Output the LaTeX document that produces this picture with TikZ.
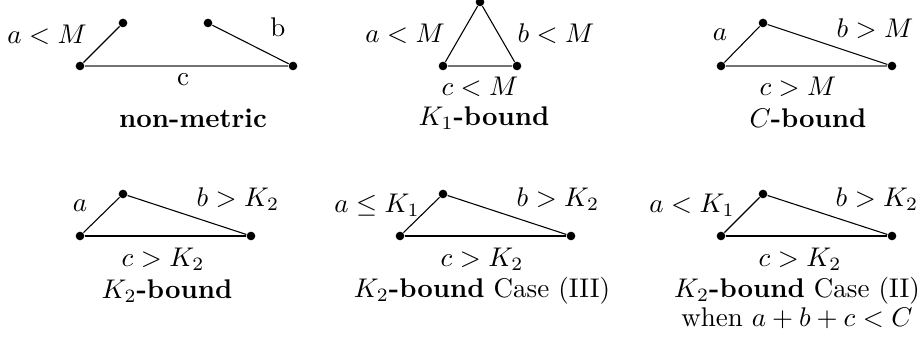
\documentclass[tikz,border=0pt]{standalone}
\usepackage{amsmath}
\begin{document}
\begin{tikzpicture}[x=0.37037pt,y=-0.37037pt,
  vtx/.style={circle,fill=black,inner sep=0pt,minimum size=3.2pt},
  edge/.style={draw=black,line width=0.4pt},
  base/.style={draw=black!55,line width=0.9pt},
  lab/.style={inner sep=0pt}]
\useasboundingbox (0,0) rectangle (923,344);
% Panel 1: non-metric
\node[vtx] (p1l) at (80,66) {};
\node[vtx] (p1a) at (123,23) {};
\node[vtx] (p1b) at (208,23) {};
\node[vtx] (p1r) at (293,66) {};
\draw[base] (p1l) -- (p1r);
\draw[edge] (p1l) -- (p1a);
\draw[edge] (p1b) -- (p1r);
\node[lab] (l1a) at (47,35) {$a<M$};
\node[lab] (l1b) at (278,27) {b};
\node[lab] (l1c) at (183,80) {c};
\node[lab] (t1) at (193,118) {\textbf{non-metric}};
% Panel 2: K1-bound
\node[vtx] (p2l) at (443,66) {};
\node[vtx] (p2t) at (480,2) {};
\node[vtx] (p2r) at (517,66) {};
\draw[base] (p2l) -- (p2r);
\draw[edge] (p2l) -- (p2t) -- (p2r);
\node[lab] (l2a) at (405,34) {$a<M$};
\node[lab] (l2b) at (556,34) {$b<M$};
\node[lab] (l2c) at (480,87) {$c<M$};
\node[lab] (t2) at (484,118) {$K_1$\textbf{-bound}};
% Panel 3: C-bound
\node[vtx] (p3l) at (721,66) {};
\node[vtx] (p3t) at (763,23) {};
\node[vtx] (p3r) at (892,66) {};
\draw[base] (p3l) -- (p3r);
\draw[edge] (p3l) -- (p3t) -- (p3r);
\node[lab] (l3a) at (720,35) {$a$};
\node[lab] (l3b) at (875,29) {$b>M$};
\node[lab] (l3c) at (798,87) {$c>M$};
\node[lab] (t3) at (808,118) {$C$\textbf{-bound}};
% Panel 4: K2-bound
\node[vtx] (p4l) at (80,236) {};
\node[vtx] (p4t) at (123,194) {};
\node[vtx] (p4r) at (251,236) {};
\draw[edge] (p4l) -- (p4r);
\draw[edge] (p4l) -- (p4t) -- (p4r);
\node[lab] (l4a) at (80,206) {$a$};
\node[lab] (l4b) at (238,199) {$b>K_2$};
\node[lab] (l4c) at (163,259) {$c>K_2$};
\node[lab] (t4) at (167,291) {$K_2$\textbf{-bound}};
% Panel 5: K2-bound Case (III)
\node[vtx] (p5l) at (400,236) {};
\node[vtx] (p5t) at (443,194) {};
\node[vtx] (p5r) at (571,236) {};
\draw[edge] (p5l) -- (p5r);
\draw[edge] (p5l) -- (p5t) -- (p5r);
\node[lab] (l5a) at (377,205) {$a\leq K_1$};
\node[lab] (l5b) at (558,199) {$b>K_2$};
\node[lab] (l5c) at (482,259) {$c>K_2$};
\node[lab] (t5) at (482,291) {$K_2$\textbf{-bound} Case (III)};
% Panel 6: K2-bound Case (II)
\node[vtx] (p6l) at (721,236) {};
\node[vtx] (p6t) at (763,194) {};
\node[vtx] (p6r) at (892,236) {};
\draw[edge] (p6l) -- (p6r);
\draw[edge] (p6l) -- (p6t) -- (p6r);
\node[lab] (l6a) at (692,205) {$a<K_1$};
\node[lab] (l6b) at (877,199) {$b>K_2$};
\node[lab] (l6c) at (800,259) {$c>K_2$};
\node[lab] (t6) at (797,291) {$K_2$\textbf{-bound} Case (II)};
\node[lab] (t6b) at (797,318) {when $a+b+c<C$};
\end{tikzpicture}
\end{document}
